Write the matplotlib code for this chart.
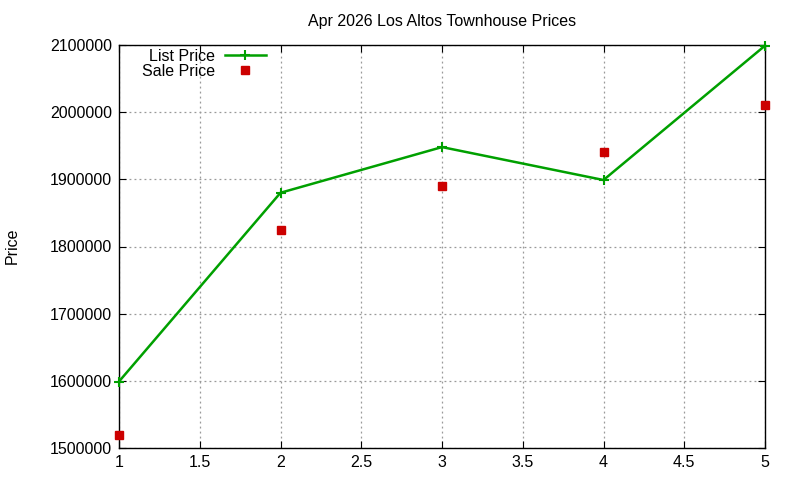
import matplotlib.pyplot as plt
import numpy as np

plt.rcParams['font.family'] = ['Liberation Sans', 'DejaVu Sans']

x = [1, 2, 3, 4, 5]
list_price = [1599000, 1880000, 1948000, 1899000, 2099000]
sale_price = [1519000, 1825000, 1890000, 1940000, 2010000]

fig = plt.figure(figsize=(8, 4.8), dpi=100)
ax = fig.add_axes([119 / 800, 1 - 448 / 480, (765 - 119) / 800, (448 - 45) / 480])

ax.plot(x, list_price, color='#00a000', linewidth=1.8, marker='+', markersize=7,
        markeredgewidth=1.5, label='List Price', clip_on=False, zorder=3)
ax.plot(x, sale_price, color='#cc0000', linestyle='none', marker='s', markersize=6,
        label='Sale Price', clip_on=False, zorder=3)

ax.set_xlim(1, 5)
ax.set_ylim(1500000, 2100000)
ax.set_xticks(np.arange(1, 5.01, 0.5))
ax.set_xticklabels(['1', '1.5', '2', '2.5', '3', '3.5', '4', '4.5', '5'])
ax.set_yticks(np.arange(1500000, 2100001, 100000))
ax.set_yticklabels([str(v) for v in range(1500000, 2100001, 100000)])
ax.tick_params(direction='in', top=True, right=True, labelsize=11.5, length=5, pad=5)
for s in ax.spines.values():
    s.set_linewidth(1.0)
ax.grid(color='#999999', linestyle=(0, (1.5, 2.5)), linewidth=0.9)

ax.set_title('Apr 2026 Los Altos Townhouse Prices', fontsize=11.5, pad=14)
fig.text(12 / 800, 1 - 246 / 480, 'Price', rotation=90, ha='center', va='center', fontsize=11.5)

ax.legend(loc='upper left', bbox_to_anchor=(0.018, 1.018), markerfirst=False, frameon=False,
          fontsize=11.5, handlelength=2.6, handletextpad=0.6, labelspacing=0.0,
          borderaxespad=0.3)

fig.savefig('out.png', dpi=100)
